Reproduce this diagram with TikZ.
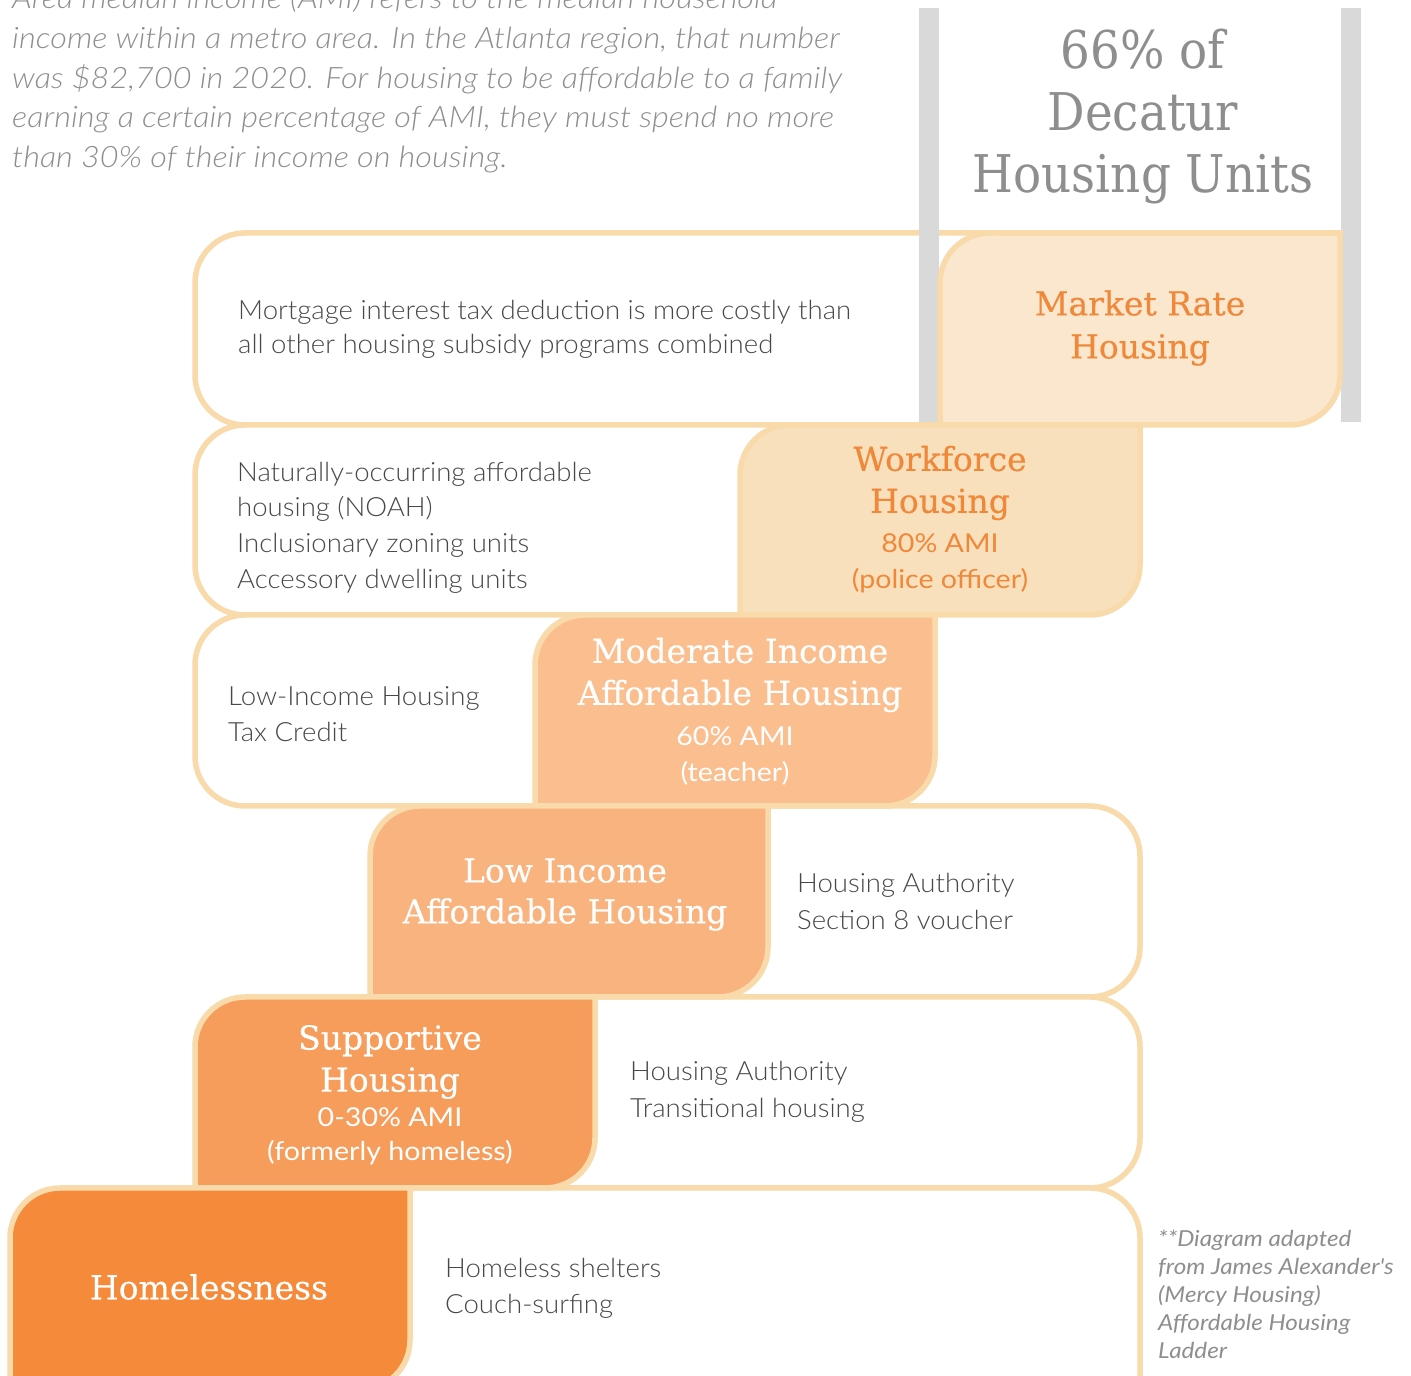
\documentclass[tikz,border=0pt]{standalone}
\usepackage{fontspec}
\setmainfont{Lato}
\IfFontExistsTF{Lato Light}{%
 \newfontfamily\lt[FakeStretch=1.04]{Lato Light}%
 \newfontfamily\ltp[FakeStretch=1.1]{Lato Light}}{%
 \newfontfamily\lt[FakeStretch=1.04]{Lato}%
 \newfontfamily\ltp[FakeStretch=1.1]{Lato}}
\newfontfamily\subf[FakeStretch=1.1]{Lato}
\newfontfamily\slab[FakeBold=0.4]{DejaVu Serif}
\newfontfamily\slabn[FakeStretch=0.9]{DejaVu Serif}
\definecolor{edge}{HTML}{F9DAAA}
\definecolor{mk}{HTML}{FAE7CE}
\definecolor{wf}{HTML}{F9E0BC}
\definecolor{md}{HTML}{FBBE8E}
\definecolor{lo}{HTML}{F9B37F}
\definecolor{sp}{HTML}{F79D5B}
\definecolor{hm}{HTML}{F58A3A}
\definecolor{barc}{HTML}{D9D9D9}
\definecolor{para}{HTML}{8E8E8E}
\definecolor{bodyc}{HTML}{484848}
\definecolor{orng}{HTML}{F0883A}
\newcommand\R{50}
% coloured box: rounded top-left and bottom-right
\newcommand\cbox[5]{%
 \pgfmathsetmacro\yt{1376-#2}\pgfmathsetmacro\yb{1376-#4}%
 \filldraw[edgeline,fill=#5] (#1,\yb) -- (#1,\yt-\R) arc[start angle=180,end angle=90,radius=\R pt] -- (#3,\yt) -- (#3,\yb+\R) arc[start angle=0,end angle=-90,radius=\R pt] -- cycle;}
% white box rounded on the left
\newcommand\wboxL[4]{%
 \pgfmathsetmacro\yt{1376-#2}\pgfmathsetmacro\yb{1376-#4}%
 \filldraw[edgeline,fill=white] (#3,\yt) -- (#1+\R,\yt) arc[start angle=90,end angle=180,radius=\R pt] -- (#1,\yb+\R) arc[start angle=180,end angle=270,radius=\R pt] -- (#3,\yb) -- cycle;}
% white box rounded on the right
\newcommand\wboxR[4]{%
 \pgfmathsetmacro\yt{1376-#2}\pgfmathsetmacro\yb{1376-#4}%
 \filldraw[edgeline,fill=white] (#1,\yt) -- (#3-\R,\yt) arc[start angle=90,end angle=0,radius=\R pt] -- (#3,\yb+\R) arc[start angle=0,end angle=-90,radius=\R pt] -- (#1,\yb) -- cycle;}
\tikzset{
 edgeline/.style={draw=edge,line width=5.5pt},
 bodytext/.style={anchor=west,inner sep=0pt,align=left,text=bodyc,font=\lt\fontsize{26.5}{35}\selectfont},
 headw/.style={inner sep=0pt,align=center,text=white,font=\slab\fontsize{33}{42}\selectfont},
 subw/.style={inner sep=0pt,align=center,text=white,font=\subf\fontsize{26}{36}\selectfont},
 heado/.style={headw,text=orng},
 subo/.style={subw,text=orng},
}
\begin{document}
\begin{tikzpicture}[x=1pt,y=1pt]
\useasboundingbox (0,0) rectangle (1411,1376);
\clip (0,0) rectangle (1411,1376);
% white rows
\wboxL{195}{233}{1100}{425}
\wboxL{195}{425}{900}{615}
\wboxL{195}{615}{700}{806}
\wboxR{450}{806}{1140}{997}
\wboxR{500}{997}{1140}{1188}
\wboxR{300}{1188}{1140}{1430}
% grey bars
\fill[barc] (919,1376-8) rectangle (939,1376-422);
\fill[barc] (1341,1376-8) rectangle (1361,1376-422);
% coloured boxes
\cbox{940}{233}{1340}{425}{mk}
\cbox{740}{425}{1140}{615}{wf}
\cbox{535}{615}{935}{806}{md}
\cbox{370}{806}{768}{997}{lo}
\cbox{195}{997}{595}{1188}{sp}
\cbox{10}{1188}{410}{1390}{hm}
\coordinate (tl) at (1000,1376-233);
\coordinate (tr) at (1340,1376-233);
\draw[edgeline] (tl) -- (tr);
% top paragraph
\node[anchor=west,inner sep=0pt,align=left,text=para,font=\ltp\itshape\fontsize{29.5}{39.75}\selectfont] (intro) at (12,1376-79.5)
 {Area median income (AMI) refers to the median household\\
  income within a metro area. In the Atlanta region, that number\\
  was \$82,700 in 2020. For housing to be affordable to a family\\
  earning a certain percentage of AMI, they must spend no more\\
  than 30\% of their income on housing.};
\node[inner sep=0pt,align=center,text=para,font=\slabn\fontsize{52}{62}\selectfont] (share) at (1143,1376-117)
 {66\% of\\Decatur\\Housing Units};
% row texts
\node[bodytext,font=\lt\fontsize{26.5}{34}\selectfont] (t1) at (238,1376-329)
 {Mortgage interest tax deduction is more costly than\\all other housing subsidy programs combined};
\node[bodytext,font=\lt\fontsize{26.5}{35.7}\selectfont] (t2) at (237,1376-527.5)
 {Naturally-occurring affordable\\housing (NOAH)\\Inclusionary zoning units\\Accessory dwelling units};
\node[bodytext,font=\lt\fontsize{26.5}{36}\selectfont] (t3) at (228,1376-714)
 {Low-Income Housing\\Tax Credit};
\node[bodytext,font=\lt\fontsize{26.5}{37}\selectfont] (t4) at (797,1376-901.5)
 {Housing Authority\\Section 8 voucher};
\node[bodytext,font=\lt\fontsize{26.5}{37}\selectfont] (t5) at (630,1376-1091.5)
 {Housing Authority\\Transitional housing};
\node[bodytext,font=\lt\fontsize{26.5}{36}\selectfont] (t6) at (445,1376-1288)
 {Homeless shelters\\Couch-surfing};
% coloured box texts
\node[heado,font=\slab\fontsize{33}{43}\selectfont] (mkh) at (1140,1376-328) {Market Rate\\Housing};
\node[heado] (wfh) at (940,1376-483) {Workforce\\Housing};
\node[subo] (wfs) at (940,1376-563) {80\% AMI\\(police officer)};
\node[headw] (mdh) at (740,1376-675) {Moderate Income\\Affordable Housing};
\node[subw] (mds) at (735,1376-756) {60\% AMI\\(teacher)};
\node[headw,font=\slab\fontsize{33}{41}\selectfont] (loh) at (565,1376-894.5) {Low Income\\Affordable Housing};
\node[headw] (sph) at (390,1376-1062) {Supportive\\Housing};
\node[subw,font=\subf\fontsize{26}{34}\selectfont] (sps) at (390,1376-1136) {0-30\% AMI\\(formerly homeless)};
\node[headw] (hmh) at (209,1376-1287) {Homelessness};
% note
\node[anchor=west,inner sep=0pt,align=left,text=para,font=\subf\itshape\fontsize{22}{28}\selectfont] (note) at (1158,1376-1294)
 {**Diagram adapted\\from James Alexander's\\(Mercy Housing)\\Affordable Housing\\Ladder};
\end{tikzpicture}
\end{document}
